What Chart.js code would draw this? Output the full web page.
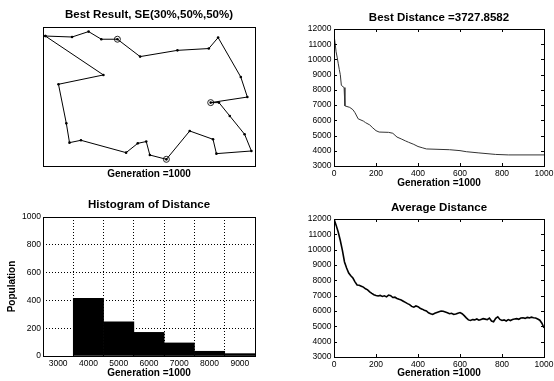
<!DOCTYPE html>
<html>
<head>
<meta charset="utf-8">
<script src="https://cdn.jsdelivr.net/npm/chart.js@4/dist/chart.umd.min.js"></script>
<style>
  html, body { margin: 0; padding: 0; background: #fff; }
  body { width: 554px; height: 381px; position: relative; overflow: hidden; }
  canvas { position: absolute; }
</style>
</head>
<body>
<canvas id="c1" width="280" height="190" style="left:0;top:0;width:280px;height:190px"></canvas>
<canvas id="c2" width="274" height="190" style="left:280px;top:0;width:274px;height:190px"></canvas>
<canvas id="c3" width="280" height="191" style="left:0;top:190px;width:280px;height:191px"></canvas>
<canvas id="c4" width="274" height="191" style="left:280px;top:190px;width:274px;height:191px"></canvas>
<script>
// ---------------- DATA ----------------
// Best route (cities in tour order)
const tourX = [1.1, 13.7, 21.5, 27.5, 35.1, 45.8, 63.4, 78.2, 82.6, 93.3, 96.4, 79.1, 83.0, 88.1, 95.1,
               98.3, 81.8, 80.2, 69.2, 58.2, 50.4, 48.7, 44.7, 39.2, 17.9, 12.5, 11.0, 7.3, 28.5];
const tourY = [93.5, 92.8, 96.7, 91.2, 91.2, 78.7, 83.2, 84.5, 92.4, 64.0, 49.6, 45.6, 45.6, 36.0, 22.8,
               10.8, 8.9, 19.2, 25.2, 4.8, 7.9, 17.6, 16.3, 9.6, 18.5, 16.8, 30.7, 58.8, 65.5];
const circledCities = [4, 11, 19];

// Best distance per generation
const bestGen = [0, 5, 10, 15, 20, 25, 30, 35, 48, 52, 75, 90, 100, 115, 140, 150, 170, 185, 200, 215,
                 260, 280, 300, 320, 340, 355, 380, 400, 420, 440, 550, 600, 630, 690, 770, 830, 1000];
const bestVal = [11600, 11100, 10500, 10150, 9750, 9350, 9000, 8300, 8150, 6950, 6850, 6700, 6500, 6100,
                 5950, 5850, 5700, 5500, 5320, 5230, 5210, 5150, 4900, 4780, 4650, 4560, 4420, 4280,
                 4200, 4120, 4070, 4010, 3940, 3860, 3760, 3728, 3727.8582];

// Average distance, one value every 10 generations (0..1000)
const avgStep = 10;
const avgVal = [12000, 11600, 11150, 10600, 9950, 9200, 8800, 8480, 8300, 8150,
                7900, 7700, 7680, 7620, 7560, 7450, 7380, 7250, 7150, 7060,
                7010, 6980, 7020, 6950, 6990, 6920, 7040, 7000, 6880, 6900,
                6820, 6760, 6720, 6640, 6560, 6480, 6420, 6300, 6250, 6330,
                6280, 6180, 6120, 6050, 6000, 5880, 5820, 5780, 5850, 5900,
                5950, 6000, 5980, 5930, 5880, 5820, 5850, 5780, 5800, 5860,
                5900, 5820, 5700, 5550, 5420, 5380, 5440, 5420, 5480, 5400,
                5450, 5500, 5470, 5430, 5540, 5350, 5300, 5520, 5620, 5450,
                5380, 5420, 5350, 5440, 5380, 5450, 5480, 5500, 5460, 5540,
                5560, 5520, 5580, 5550, 5600, 5560, 5540, 5480, 5400, 5200,
                4900];

// Histogram of distance
const histCenters = [4000, 5000, 6000, 7000, 8000, 9000];
const histCounts  = [415, 246, 170, 94, 34, 17];
const histXTicks  = [3000, 4000, 5000, 6000, 7000, 8000, 9000];

// Texts
const titleRoute = 'Best Result, SE(30%,50%,50%)';
const titleBest = 'Best Distance =3727.8582';
const titleHist = 'Histogram of Distance';
const titleAvg = 'Average Distance';
const xLabel = 'Generation =1000';
const yLabelHist = 'Population';

// ---------------- STYLE / HELPERS ----------------
const FAM = '"Liberation Sans", Arial, Helvetica, sans-serif';
Chart.defaults.font.family = FAM;
Chart.defaults.color = '#000';
Chart.defaults.animation = false;

// MATLAB-like axes box with inward ticks; also centres the title over the plot area
const matBox = {
  id: 'matBox',
  afterLayout(chart) {
    const tb = chart.titleBlock, a = chart.chartArea;
    if (tb && a) { tb.left = a.left; tb.right = a.right; tb.width = a.right - a.left; }
  },
  afterDraw(chart, args, opts) {
    const ctx = chart.ctx, a = chart.chartArea;
    const l = Math.round(a.left), t = Math.round(a.top), r = Math.round(a.right), b = Math.round(a.bottom);
    ctx.save();
    ctx.strokeStyle = '#000';
    ctx.lineWidth = 1;
    ctx.strokeRect(l + 0.5, t + 0.5, r - l, b - t);
    if (opts && opts.ticks) {
      const L = 3;
      const xs = chart.scales.x, ys = chart.scales.y;
      ctx.beginPath();
      xs.ticks.forEach(tk => {
        const px = Math.round(xs.getPixelForValue(tk.value)) + 0.5;
        ctx.moveTo(px, b); ctx.lineTo(px, b - L);
        ctx.moveTo(px, t); ctx.lineTo(px, t + L);
      });
      ys.ticks.forEach(tk => {
        const py = Math.round(ys.getPixelForValue(tk.value)) + 0.5;
        ctx.moveTo(l, py); ctx.lineTo(l + L, py);
        ctx.moveTo(r, py); ctx.lineTo(r - L, py);
      });
      ctx.stroke();
    }
    ctx.restore();
  }
};

function zeroPad(s) { s.paddingLeft = 0; s.paddingRight = 0; s.paddingTop = 0; s.paddingBottom = 0; }
const tickFont = { family: FAM, size: 8.5 };
const plain = v => String(v);

function titleOpt(text, pt, pb) {
  return { display: true, text, color: '#000', font: { family: FAM, size: 11.5, weight: 'bold' },
           padding: { top: pt, bottom: pb } };
}
function xTitle(pb) {
  return { display: true, text: xLabel, color: '#000', font: { family: FAM, size: 10, weight: 'bold' },
           padding: { top: 0, bottom: pb } };
}

// ---------------- CHART 1: best route ----------------
const routePts = tourX.map((x, i) => ({ x, y: tourY[i] }));
routePts.push({ x: tourX[0], y: tourY[0] });
const circPts = circledCities.map(i => ({ x: tourX[i], y: tourY[i] }));

new Chart(document.getElementById('c1'), {
  type: 'scatter',
  data: { datasets: [
    { data: routePts, showLine: true, borderColor: '#000', borderWidth: 1, pointRadius: 1.3,
      pointBackgroundColor: '#000', pointBorderWidth: 0, tension: 0 },
    { data: circPts, showLine: false, pointRadius: 3, pointBorderColor: '#222', pointBorderWidth: 1,
      pointBackgroundColor: 'rgba(0,0,0,0)' }
  ] },
  options: {
    responsive: false, events: [],
    layout: { padding: { left: 43, right: 25, top: 0, bottom: 0 } },
    plugins: { legend: { display: false }, tooltip: { enabled: false },
               title: titleOpt(titleRoute, 8.1, 5.1), matBox: { ticks: false } },
    scales: {
      x: { type: 'linear', min: 0, max: 100, ticks: { display: false }, grid: { display: false, drawTicks: false },
           border: { display: false }, title: xTitle(10), afterFit: s => { s.height = 24; zeroPad(s); } },
      y: { type: 'linear', min: 0, max: 100, display: false }
    }
  },
  plugins: [matBox]
});

// ---------------- CHARTS 2 & 4: best / average distance ----------------
function lineChart(id, pts, title, tpt, tpb, xh, xpb, lineOpts) {
  return new Chart(document.getElementById(id), {
    type: 'line',
    data: { datasets: [Object.assign({ data: pts, pointRadius: 0, tension: 0, fill: false }, lineOpts)] },
    options: {
      responsive: false, events: [],
      layout: { padding: { left: 0, right: 10, top: 0, bottom: 0 } },
      plugins: { legend: { display: false }, tooltip: { enabled: false },
                 title: titleOpt(title, tpt, tpb), matBox: { ticks: true } },
      scales: {
        x: { type: 'linear', min: 0, max: 1000,
             ticks: { stepSize: 200, font: tickFont, padding: 2.5, maxRotation: 0, autoSkip: false, callback: plain },
             grid: { display: false, drawTicks: false }, border: { display: false },
             title: xTitle(xpb), afterFit: s => { s.height = xh; zeroPad(s); } },
        y: { type: 'linear', min: 3000, max: 12000,
             ticks: { stepSize: 1000, font: tickFont, padding: 2.5, autoSkip: false, callback: plain },
             grid: { display: false, drawTicks: false }, border: { display: false },
             afterFit: s => { s.width = 54; zeroPad(s); } }
      }
    },
    plugins: [matBox]
  });
}

const bestPts = bestGen.map((g, i) => ({ x: g, y: bestVal[i] }));
lineChart('c2', bestPts, titleBest, 11.4, 3.8, 24, 0.3, { borderColor: '#333', borderWidth: 1 });

const avgPts = avgVal.map((v, i) => ({ x: i * avgStep, y: v }));
lineChart('c4', avgPts, titleAvg, 11.4, 3.8, 24, 1.5, { borderColor: '#000', borderWidth: 1.6 });

// ---------------- CHART 3: histogram ----------------
new Chart(document.getElementById('c3'), {
  type: 'bar',
  data: { datasets: [{ data: histCenters.map((c, i) => ({ x: c, y: histCounts[i] })),
                       backgroundColor: '#000', borderWidth: 0, barPercentage: 1, categoryPercentage: 1 }] },
  options: {
    responsive: false, events: [],
    layout: { padding: { left: 0, right: 25, top: 0, bottom: 0 } },
    plugins: { legend: { display: false }, tooltip: { enabled: false },
               title: titleOpt(titleHist, 8.1, 5.1), matBox: { ticks: false } },
    scales: {
      x: { type: 'linear', min: 2500, max: 9500, offset: false,
           ticks: { font: tickFont, padding: 2.5, maxRotation: 0, autoSkip: false, callback: plain },
           afterBuildTicks: s => { s.ticks = histXTicks.map(v => ({ value: v })); },
           grid: { display: true, drawTicks: false, color: '#000', lineWidth: 1 },
           border: { display: false, dash: [1, 2] },
           title: xTitle(2), afterFit: s => { s.height = 25; zeroPad(s); } },
      y: { type: 'linear', min: 0, max: 1000,
           ticks: { stepSize: 200, font: tickFont, padding: 2, autoSkip: false, callback: plain },
           grid: { display: true, drawTicks: false, color: '#000', lineWidth: 1 },
           border: { display: false, dash: [1, 2] },
           title: { display: true, text: yLabelHist, color: '#000', font: { family: FAM, size: 10, weight: 'bold' },
                    padding: { top: 6.7, bottom: 0 } },
           afterFit: s => { s.width = 43; zeroPad(s); } }
    }
  },
  plugins: [matBox]
});
</script>
</body>
</html>
